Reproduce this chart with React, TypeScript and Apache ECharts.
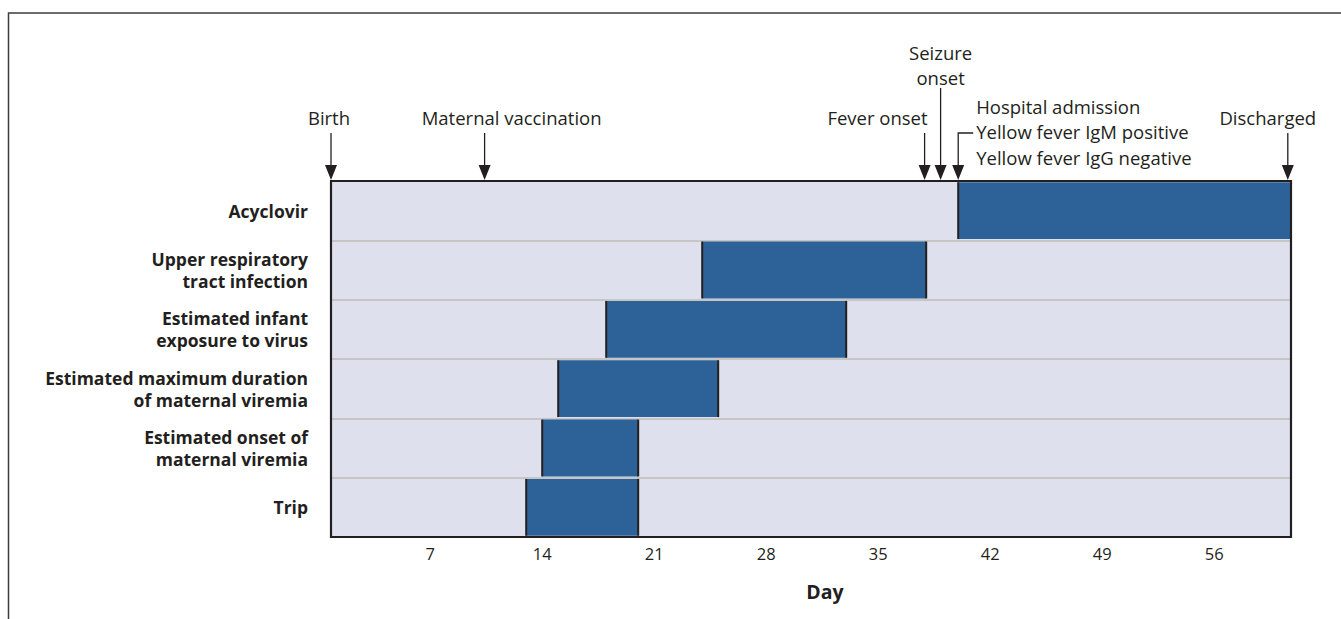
import React, { useEffect, useRef } from "react";
import * as echarts from "echarts";

// ---- data ----
const categories = [
  "Acyclovir",
  "Upper respiratory\ntract infection",
  "Estimated infant\nexposure to virus",
  "Estimated maximum duration\nof maternal viremia",
  "Estimated onset of\nmaternal viremia",
  "Trip",
];
const barStarts = [40, 24, 18, 15, 14, 13];
const barEnds = [60.8, 38, 33, 25, 20, 20];
const dayTicks = [7, 14, 21, 28, 35, 42, 49, 56];
const eventNames = [
  "Birth",
  "Maternal vaccination",
  "Fever onset",
  "Seizure\nonset",
  "Hospital admission\nYellow fever IgM positive\nYellow fever IgG negative",
  "Discharged",
];
const eventDays = [0.8, 10.4, 37.9, 38.9, 40, 60.6];

// ---- layout / style (not data) ----
const INK = "#231f20";
const FONT = '"Open Sans", "Noto Sans", sans-serif';
const eventLayout = [
  { align: "center", dx: -2, textY: 64, lh: 25, lineTop: 48 },
  { align: "center", dx: 27, textY: 64, lh: 25, lineTop: 48 },
  { align: "right", dx: 3, textY: 64, lh: 25, lineTop: 48 },
  { align: "center", dx: 0, textY: 116, lh: 25.5, lineTop: 93 },
  { align: "left", dx: 18, textY: 49.5, lh: 25.5, lineTop: 48, bracket: 15 },
  { align: "center", dx: -20, textY: 64, lh: 25, lineTop: 48 },
];
const GRID = { left: 331, top: 181, width: 960, height: 356 };

export default function App() {
  const ref = useRef<HTMLDivElement>(null);
  useEffect(() => {
    if (!ref.current) return;
    const chart = echarts.init(ref.current, undefined, { renderer: "svg" });
    const barData = categories.map((_, i) => [i, barStarts[i], barEnds[i]]);
    const eventData = eventDays.map((d, i) => [d, 0, i]);
    chart.setOption({
      animation: false,
      backgroundColor: "#ffffff",
      textStyle: { fontFamily: FONT, color: INK },
      grid: {
        ...GRID,
        show: true,
        backgroundColor: "#dee1ed",
        borderWidth: 0,
        z: 0,
      },
      graphic: [
        {
          type: "rect",
          shape: { x: 8.5, y: 13, width: 1500, height: 800 },
          style: { fill: null, stroke: "#3c3c3c", lineWidth: 1.5 },
          silent: true,
        },
        {
          type: "rect",
          shape: { x: GRID.left, y: GRID.top, width: GRID.width, height: GRID.height },
          style: { fill: null, stroke: INK, lineWidth: 2.2 },
          silent: true,
          z: 100,
        },
      ],
      xAxis: {
        type: "value",
        min: 0.8,
        max: 60.8,
        axisLine: { show: false },
        axisTick: { show: false },
        splitLine: { show: false },
        axisLabel: {
          customValues: dayTicks,
          margin: 8,
          fontSize: 16.5,
          color: INK,
          fontFamily: FONT,
        },
        name: "Day",
        nameLocation: "middle",
        nameGap: 44,
        nameTextStyle: {
          fontSize: 19.5,
          fontWeight: "bold",
          color: INK,
          fontFamily: FONT,
          padding: [0, 0, 0, 28],
        },
      },
      yAxis: {
        type: "category",
        inverse: true,
        data: categories,
        axisLine: { show: false },
        axisTick: { show: false },
        splitLine: { show: true, lineStyle: { color: "#c6c6c6", width: 2 } },
        axisLabel: {
          margin: 23,
          fontSize: 17.5,
          fontWeight: "bold",
          lineHeight: 22,
          color: INK,
          fontFamily: FONT,
          align: "right",
        },
      },
      series: [
        {
          type: "custom",
          clip: true,
          data: barData,
          encode: { x: [1, 2], y: 0 },
          renderItem: (params: any, api: any) => {
            const row = api.value(0);
            const s = api.coord([api.value(1), row]);
            const e = api.coord([api.value(2), row]);
            const h = api.size([0, 1])[1] - 2.5;
            const y0 = s[1] - h / 2;
            return {
              type: "group",
              children: [
                {
                  type: "rect",
                  shape: { x: s[0], y: y0, width: e[0] - s[0], height: h },
                  style: { fill: "#2d6299" },
                },
                {
                  type: "line",
                  shape: { x1: s[0], y1: y0, x2: s[0], y2: y0 + h },
                  style: { stroke: INK, lineWidth: 2 },
                },
                {
                  type: "line",
                  shape: { x1: e[0], y1: y0, x2: e[0], y2: y0 + h },
                  style: { stroke: INK, lineWidth: 2 },
                },
              ],
            };
          },
          z: 2,
        },
        {
          type: "custom",
          clip: false,
          silent: true,
          data: eventData,
          encode: { x: 0, y: 1 },
          renderItem: (params: any, api: any) => {
            const i = api.value(2);
            const x = api.coord([api.value(0), 0])[0];
            const top = params.coordSys.y;
            const L: any = eventLayout[i];
            const children: any[] = [];
            if (L.bracket) {
              children.push({
                type: "polyline",
                shape: {
                  points: [
                    [x + L.bracket, top - L.lineTop],
                    [x, top - L.lineTop],
                    [x, top - 12],
                  ],
                },
                style: { stroke: INK, lineWidth: 1.3, fill: null },
              });
            } else {
              children.push({
                type: "line",
                shape: { x1: x, y1: top - L.lineTop, x2: x, y2: top - 12 },
                style: { stroke: INK, lineWidth: 1.3 },
              });
            }
            children.push({
              type: "polygon",
              shape: {
                points: [
                  [x - 6, top - 16],
                  [x + 6, top - 16],
                  [x, top - 1],
                ],
              },
              style: { fill: INK },
            });
            children.push({
              type: "text",
              x: x + L.dx,
              y: top - L.textY,
              style: {
                text: eventNames[i],
                align: L.align,
                verticalAlign: "middle",
                lineHeight: L.lh,
                fontSize: 18.5,
                fontFamily: FONT,
                fill: INK,
              },
            });
            return { type: "group", children };
          },
          z: 5,
        },
      ],
    });
    return () => chart.dispose();
  }, []);
  return (
    <div
      ref={ref}
      style={{
        position: "fixed",
        left: 0,
        top: 0,
        width: 1341,
        height: 619,
        background: "#fff",
      }}
    />
  );
}
